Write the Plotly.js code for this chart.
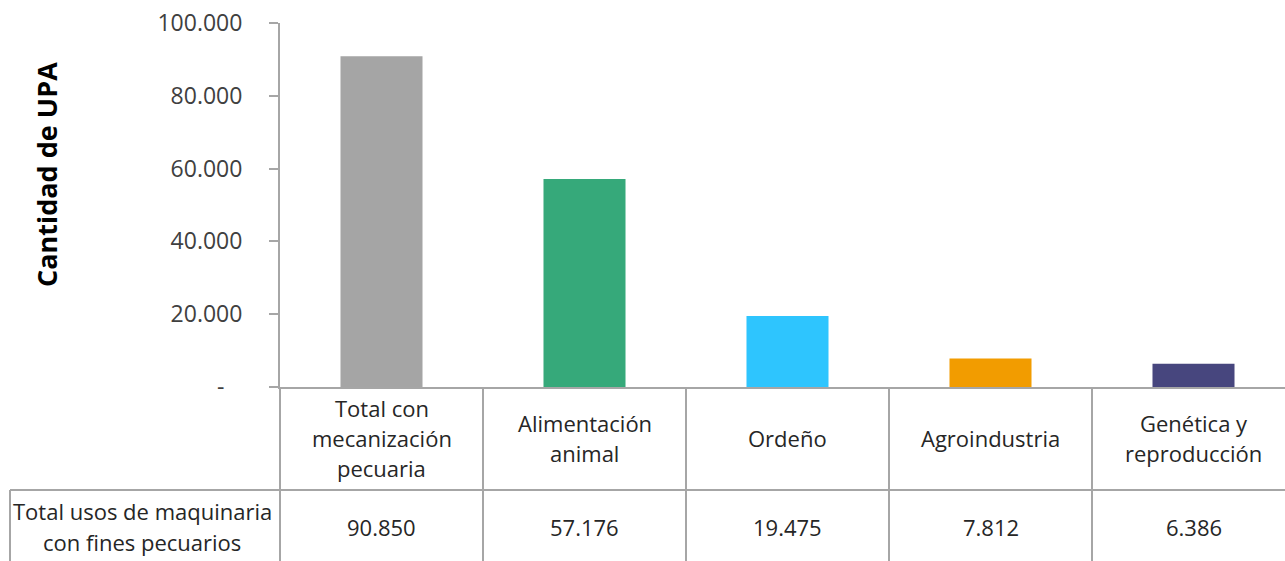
<!DOCTYPE html>
<html>
<head>
<meta charset="utf-8">
<script src="https://cdn.plot.ly/plotly-3.0.1.min.js"></script>
<style>html,body{margin:0;padding:0;background:#fff;}#chart{width:1285px;height:561px;}</style>
</head>
<body>
<div id="chart"></div>
<script>
const categories = ["Total con<br>mecanización<br>pecuaria", "Alimentación<br>animal", "Ordeño", "Agroindustria", "Genética y<br>reproducción"];
const values = [90850, 57176, 19475, 7812, 6386];
const valueLabels = ["90.850", "57.176", "19.475", "7.812", "6.386"];
const barColors = ["#a5a5a5", "#36a97a", "#2ec5fe", "#f29c00", "#47467e"];
const tickValues = [0, 20000, 40000, 60000, 80000, 100000];
const tickLabels = ["-\u00a0\u00a0\u00a0", "20.000", "40.000", "60.000", "80.000", "100.000"];
const rowLabel = ["Total usos de maquinaria", "con fines pecuarios"];
const yTitle = "Cantidad de UPA";

const W = 1285, H = 561;
const mT = 23, mB = 174, mL = 280, mR = 0;
const plotH = H - mT - mB;
const plotW = W - mL - mR;
const catW = 203;
const xMax = -0.5 + plotW / catW;
const py = px => (H - mB - px) / plotH;          // pixel y -> paper y
const pxx = px => (px - mL) / plotW;              // pixel x -> paper x

const font = "'Segoe UI', 'Open Sans', 'Noto Sans', sans-serif";
const lineCol = "#a6a6a6";
const textCol = "#262626";

const xIdx = categories.map((_, i) => i);

const shapes = [];
const annotations = [];

// header row bottom line
shapes.push({type: "line", xref: "paper", yref: "paper", x0: pxx(10), x1: 1, y0: py(490), y1: py(490), line: {color: lineCol, width: 2}});
// left box vertical
shapes.push({type: "line", xref: "paper", yref: "paper", x0: pxx(10), x1: pxx(10), y0: py(490), y1: py(565), line: {color: lineCol, width: 2}});
// axis extension down
shapes.push({type: "line", xref: "paper", yref: "paper", x0: 0, x1: 0, y0: 0, y1: py(565), line: {color: lineCol, width: 2}});
// category boundaries
for (let i = 0; i < categories.length - 1; i++) {
  shapes.push({type: "line", xref: "x", yref: "paper", x0: i + 0.5, x1: i + 0.5, y0: 0, y1: py(565), line: {color: lineCol, width: 2}});
}

// category labels (one annotation per line)
categories.forEach((c, i) => {
  const lines = c.split("<br>");
  const spacing = 30;
  const center = 438;
  lines.forEach((ln, k) => {
    const yc = center + (k - (lines.length - 1) / 2) * spacing;
    annotations.push({x: i, xref: "x", y: py(yc), yref: "paper", text: ln, showarrow: false,
      xanchor: "center", yanchor: "middle", font: {family: font, size: 22, color: textCol}});
  });
});
// values row
valueLabels.forEach((v, i) => {
  annotations.push({x: i, xref: "x", y: py(527), yref: "paper", text: v, showarrow: false,
    xanchor: "center", yanchor: "middle", font: {family: font, size: 22, color: textCol}});
});
// row label
rowLabel.forEach((t, k) => {
  annotations.push({x: pxx(142), xref: "paper", y: py(511 + k * 31), yref: "paper", text: t, showarrow: false,
    xanchor: "center", yanchor: "middle", font: {family: font, size: 22, color: textCol}});
});
// y title
annotations.push({x: pxx(47), xref: "paper", y: py(175), yref: "paper", text: "<b>" + yTitle + "</b>", showarrow: false,
  textangle: -90, xanchor: "center", yanchor: "middle", font: {family: font, size: 27, color: "#000"}});

const trace = {
  type: "bar",
  x: xIdx,
  y: values,
  marker: {color: barColors, line: {width: 0}},
  width: 0.404,
  hoverinfo: "skip"
};

const layout = {
  width: W, height: H,
  margin: {t: mT, b: mB, l: mL, r: mR, pad: 0},
  paper_bgcolor: "#fff", plot_bgcolor: "#fff",
  showlegend: false,
  xaxis: {range: [-0.5, xMax], showticklabels: false, showgrid: false, zeroline: false,
    showline: true, linecolor: lineCol, linewidth: 2, ticks: "", fixedrange: true},
  yaxis: {range: [0, 100000], tickvals: tickValues, ticktext: tickLabels, showgrid: false, zeroline: false,
    showline: true, linecolor: lineCol, linewidth: 2, ticks: "outside", ticklen: 9, tickcolor: lineCol, tickwidth: 2,
    ticklabelstandoff: 22, tickfont: {family: font, size: 23, color: "#404040"}, fixedrange: true},
  shapes: shapes,
  annotations: annotations
};

Plotly.newPlot("chart", [trace], layout, {displayModeBar: false, staticPlot: true});
</script>
</body>
</html>
